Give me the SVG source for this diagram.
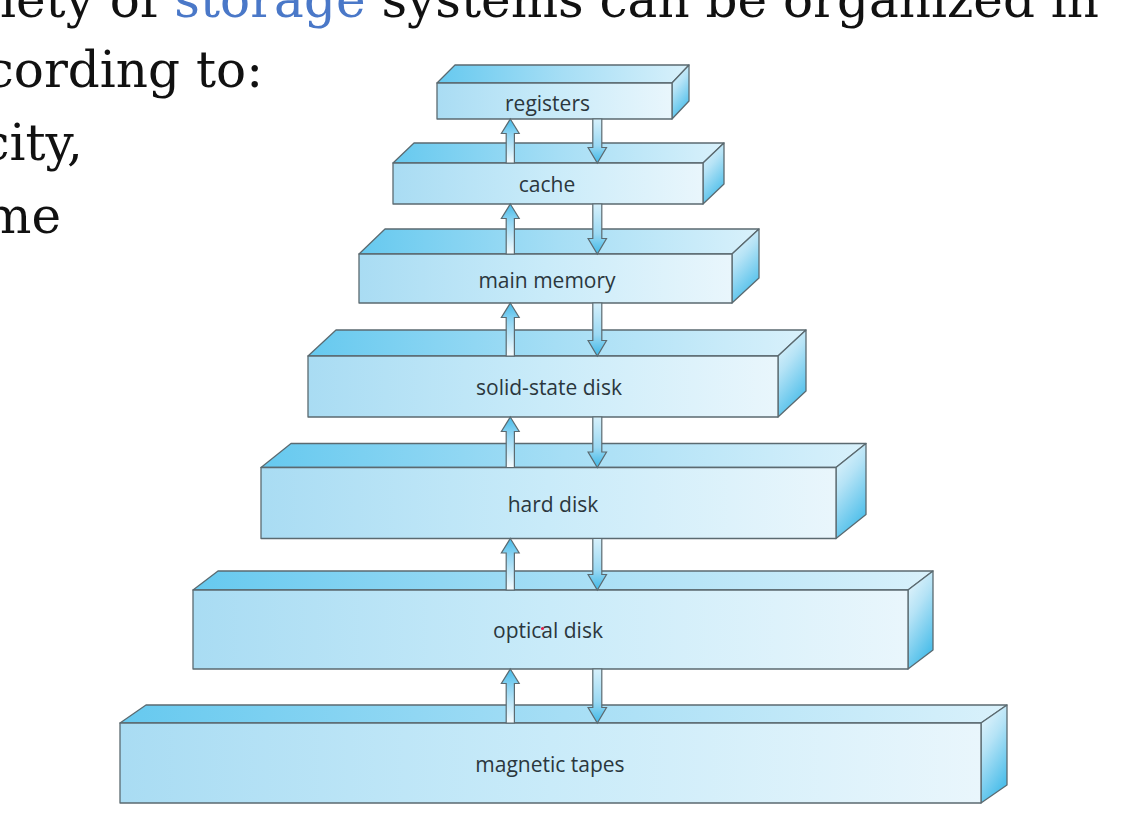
<svg xmlns="http://www.w3.org/2000/svg" width="1122" height="826" viewBox="0 0 1122 826">
<defs>
<linearGradient id="gFront" x1="0" y1="0" x2="1" y2="0">
<stop offset="0" stop-color="#a9dcf3"/><stop offset="0.5" stop-color="#c9ebf9"/><stop offset="1" stop-color="#e9f6fc"/>
</linearGradient>
<linearGradient id="gTop" x1="0" y1="0" x2="1" y2="0">
<stop offset="0" stop-color="#66c9ef"/><stop offset="0.5" stop-color="#a6def5"/><stop offset="1" stop-color="#d9f1fb"/>
</linearGradient>
<linearGradient id="gSide" x1="0" y1="0" x2="0.4" y2="1">
<stop offset="0" stop-color="#eef8fd"/><stop offset="0.45" stop-color="#b5e3f6"/><stop offset="1" stop-color="#4fbfea"/>
</linearGradient>
<linearGradient id="gUp" x1="0" y1="0" x2="0" y2="1">
<stop offset="0" stop-color="#45bbe9"/><stop offset="0.35" stop-color="#93d6f3"/><stop offset="1" stop-color="#f7fcfe"/>
</linearGradient>
<linearGradient id="gDown" x1="0" y1="0" x2="0" y2="1">
<stop offset="0" stop-color="#d6f0fb"/><stop offset="0.6" stop-color="#9bd9f3"/><stop offset="1" stop-color="#3fb8e7"/>
</linearGradient>
</defs>
<style>
.front{fill:url(#gFront);stroke:#5b6a70;stroke-width:1.3;stroke-linejoin:round}
.top{fill:url(#gTop);stroke:#5b6a70;stroke-width:1.3;stroke-linejoin:round}
.side{fill:url(#gSide);stroke:#5b6a70;stroke-width:1.3;stroke-linejoin:round}
.lbl{font-family:"Open Sans","Noto Sans",sans-serif;font-size:21px;fill:#2b373d;text-anchor:middle}
.hd{font-family:"DejaVu Serif","Liberation Serif",serif;font-size:50px;fill:#111}
.up{fill:url(#gUp);stroke:#5b6a70;stroke-width:1.2;stroke-linejoin:miter}
.down{fill:url(#gDown);stroke:#5b6a70;stroke-width:1.2;stroke-linejoin:miter}
</style>
<rect width="1122" height="826" fill="#ffffff"/>

<g id="heading">
<text class="hd" x="0" y="17">iety of <tspan fill="#4a78c8">storage</tspan> systems can be organized in</text>
<text class="hd" x="263" y="87" text-anchor="end">cording to:</text>
<text class="hd" x="83" y="160" text-anchor="end">city,</text>
<text class="hd" x="61" y="233" text-anchor="end">me</text>
</g>

<g id="magnetic-tapes">
<polygon class="top" points="120,723 146,705 1007,705 981,723"/>
<polygon class="side" points="981,723 1007,705 1007,785 981,803"/>
<rect class="front" x="120" y="723" width="861" height="80"/>
<text class="lbl" x="550" y="771.7">magnetic tapes</text>
</g>

<g id="optical-disk">
<polygon class="top" points="193,590 218,571 933,571 908,590"/>
<polygon class="side" points="908,590 933,571 933,650 908,669"/>
<rect class="front" x="193" y="590" width="715" height="79"/>
<text class="lbl" x="548" y="638.3">optical disk</text>
<circle cx="542.5" cy="628.5" r="1.6" fill="#e0204a"/>
</g>

<g id="hard-disk">
<polygon class="top" points="261,467.5 291,443.5 866,443.5 836,467.5"/>
<polygon class="side" points="836,467.5 866,443.5 866,514.5 836,538.5"/>
<rect class="front" x="261" y="467.5" width="575" height="71"/>
<text class="lbl" x="553" y="511.7">hard disk</text>
</g>

<g id="solid-state-disk">
<polygon class="top" points="308,356 336,330 806,330 778,356"/>
<polygon class="side" points="778,356 806,330 806,391 778,417"/>
<rect class="front" x="308" y="356" width="470" height="61"/>
<text class="lbl" x="549" y="395">solid-state disk</text>
</g>

<g id="main-memory">
<polygon class="top" points="359,254 385,229 759,229 732,254"/>
<polygon class="side" points="732,254 759,229 759,278 732,303"/>
<rect class="front" x="359" y="254" width="373" height="49"/>
<text class="lbl" x="547" y="288.3">main memory</text>
</g>

<g id="cache">
<polygon class="top" points="393,163 414,143 724,143 703,163"/>
<polygon class="side" points="703,163 724,143 724,184 703,204"/>
<rect class="front" x="393" y="163" width="310" height="41"/>
<text class="lbl" x="547" y="191.7">cache</text>
</g>

<g id="registers">
<polygon class="top" points="437,83 455,65 689,65 672,83"/>
<polygon class="side" points="672,83 689,65 689,101 672,119"/>
<rect class="front" x="437" y="83" width="235" height="36"/>
<text class="lbl" x="547.5" y="110.7">registers</text>
</g>

<g id="connectors">
<polygon class="up" points="510.3,119 519.2,133.5 514.4,133.5 514.4,163 506.2,163 506.2,133.5 501.4,133.5"/>
<polygon class="down" points="592.8,119 601.8,119 601.8,147.5 606.5,147.5 597.3,163 588.1,147.5 592.8,147.5"/>

<polygon class="up" points="510.3,204 519.2,218.5 514.4,218.5 514.4,254 506.2,254 506.2,218.5 501.4,218.5"/>
<polygon class="down" points="592.8,204 601.8,204 601.8,238.5 606.5,238.5 597.3,254 588.1,238.5 592.8,238.5"/>

<polygon class="up" points="510.3,303 519.2,317.5 514.4,317.5 514.4,356 506.2,356 506.2,317.5 501.4,317.5"/>
<polygon class="down" points="592.8,303 601.8,303 601.8,340.5 606.5,340.5 597.3,356 588.1,340.5 592.8,340.5"/>

<polygon class="up" points="510.3,417 519.2,431.5 514.4,431.5 514.4,467.5 506.2,467.5 506.2,431.5 501.4,431.5"/>
<polygon class="down" points="592.8,417 601.8,417 601.8,452 606.5,452 597.3,467.5 588.1,452 592.8,452"/>

<polygon class="up" points="510.3,538.5 519.2,553 514.4,553 514.4,590 506.2,590 506.2,553 501.4,553"/>
<polygon class="down" points="592.8,538.5 601.8,538.5 601.8,574.5 606.5,574.5 597.3,590 588.1,574.5 592.8,574.5"/>

<polygon class="up" points="510.3,669 519.2,683.5 514.4,683.5 514.4,723 506.2,723 506.2,683.5 501.4,683.5"/>
<polygon class="down" points="592.8,669 601.8,669 601.8,707.5 606.5,707.5 597.3,723 588.1,707.5 592.8,707.5"/>
</g>
</svg>
